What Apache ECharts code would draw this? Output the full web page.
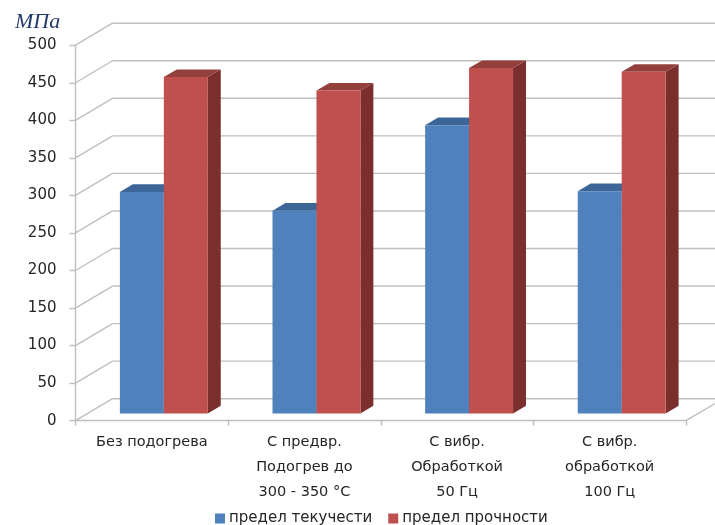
<!DOCTYPE html>
<html>
<head>
<meta charset="utf-8">
<script src="https://cdn.jsdelivr.net/npm/echarts@6/dist/echarts.min.js"></script>
<style>
  html, body { margin: 0; padding: 0; background: #fff; }
  #chart { width: 715px; height: 525px; }
</style>
</head>
<body>
<div id="chart"></div>
<script>
// Categories (welding regimes) and the two strength series, MPa
const categories = [
  'Без подогрева',
  'С предвр.\nПодогрев до\n300 - 350 °С',
  'С вибр.\nОбработкой\n50 Гц',
  'С вибр.\nобработкой\n100 Гц'
];
const yieldStrength = [295, 270, 384, 296];    // предел текучести
const tensileStrength = [448, 430, 460, 455];  // предел прочности
const yTicks = [0, 50, 100, 150, 200, 250, 300, 350, 400, 450, 500];

// Depth of the pseudo-3D box (pixels) and the bars' place inside it
const DEPTH_X = 37;
const DEPTH_Y = 22;
const BAR_FRONT = 0.325;   // fraction of depth where the bar's front face sits
const BAR_DEPTH = 0.35;    // fraction of depth occupied by a bar
const BAR_SHARE = 0.288;   // bar width as share of category band

const FONT = 'DejaVu Sans';
const GRID_COLOR = '#bfbfbf';

const palette = {
  blue: { front: '#4f81bd', top: '#3c6598', side: '#2f527e' },
  red:  { front: '#c0504d', top: '#93403d', side: '#7a2f2d' }
};

function wallItem(params, api) {
  const v = api.value(1);
  const cs = params.coordSys;
  const xL = cs.x, xR = cs.x + cs.width;
  const y = api.coord([0, v])[1];
  const style = { stroke: GRID_COLOR, lineWidth: 1.4 };
  const children = [
    { type: 'line', shape: { x1: xL, y1: y, x2: xL + DEPTH_X, y2: y - DEPTH_Y }, style: style },
    { type: 'line', shape: { x1: xL + DEPTH_X, y1: y - DEPTH_Y, x2: xR + DEPTH_X, y2: y - DEPTH_Y }, style: style }
  ];
  if (v === 0) {
    children.push({ type: 'line', shape: { x1: xR, y1: y, x2: xR + DEPTH_X, y2: y - DEPTH_Y }, style: style });
  }
  return { type: 'group', children: children };
}

function barRenderer(slot, colors) {
  return function (params, api) {
    const i = api.value(0), v = api.value(1);
    const top = api.coord([i, v]);
    const base = api.coord([i, 0]);
    const bw = api.size([1, 0])[0] * BAR_SHARE;
    const x0 = top[0] + (slot - 1) * bw + BAR_FRONT * DEPTH_X;
    const x1 = x0 + bw;
    const yT = top[1] - BAR_FRONT * DEPTH_Y;
    const yB = base[1] - BAR_FRONT * DEPTH_Y;
    const dx = BAR_DEPTH * DEPTH_X, dy = BAR_DEPTH * DEPTH_Y;
    return {
      type: 'group',
      children: [
        { type: 'polygon', shape: { points: [[x1, yT], [x1 + dx, yT - dy], [x1 + dx, yB - dy], [x1, yB]] },
          style: { fill: colors.side } },
        { type: 'polygon', shape: { points: [[x0, yT], [x1, yT], [x1 + dx, yT - dy], [x0 + dx, yT - dy]] },
          style: { fill: colors.top } },
        { type: 'rect', shape: { x: x0, y: yT, width: bw, height: yB - yT },
          style: { fill: colors.front } }
      ]
    };
  };
}

const chart = echarts.init(document.getElementById('chart'), null, { renderer: 'canvas' });
chart.setOption({
  animation: false,
  backgroundColor: '#ffffff',
  title: {
    text: 'МПа',
    left: 10,
    top: 6,
    textStyle: { fontFamily: 'Liberation Serif', fontStyle: 'italic', fontWeight: 'normal', fontSize: 22, color: '#243a6b' }
  },
  legend: {
    top: 506,
    left: 210,
    itemWidth: 10,
    itemHeight: 10,
    itemGap: 16,
    icon: 'rect',
    textStyle: { fontFamily: FONT, fontSize: 15, color: '#262626', padding: [0, 0, 0, -1] },
    data: ['предел текучести', 'предел прочности']
  },
  grid: { left: 75.5, right: 29, top: 45.2, bottom: 104.3 },
  xAxis: {
    type: 'category',
    data: categories,
    axisLine: { lineStyle: { color: GRID_COLOR, width: 1.4 } },
    axisTick: { show: true, length: 5, lineStyle: { color: GRID_COLOR, width: 1.4 } },
    axisLabel: { fontFamily: FONT, fontSize: 14.5, color: '#262626', lineHeight: 25, margin: 9 }
  },
  yAxis: {
    type: 'value',
    min: 0,
    max: 500,
    interval: 50,
    axisLine: { show: true, lineStyle: { color: GRID_COLOR, width: 1.4 } },
    axisTick: { show: true, length: 6, lineStyle: { color: GRID_COLOR, width: 1.4 } },
    splitLine: { show: false },
    axisLabel: { fontFamily: FONT, fontSize: 15, color: '#262626', margin: 19 }
  },
  series: [
    {
      type: 'custom',
      name: 'walls',
      silent: true,
      z: 1,
      renderItem: wallItem,
      data: yTicks.map(function (v) { return [0, v]; })
    },
    {
      type: 'custom',
      name: 'предел текучести',
      z: 2,
      itemStyle: { color: palette.blue.front },
      renderItem: barRenderer(0, palette.blue),
      data: yieldStrength.map(function (v, i) { return [i, v]; })
    },
    {
      type: 'custom',
      name: 'предел прочности',
      z: 3,
      itemStyle: { color: palette.red.front },
      renderItem: barRenderer(1, palette.red),
      data: tensileStrength.map(function (v, i) { return [i, v]; })
    }
  ]
});
</script>
</body>
</html>
